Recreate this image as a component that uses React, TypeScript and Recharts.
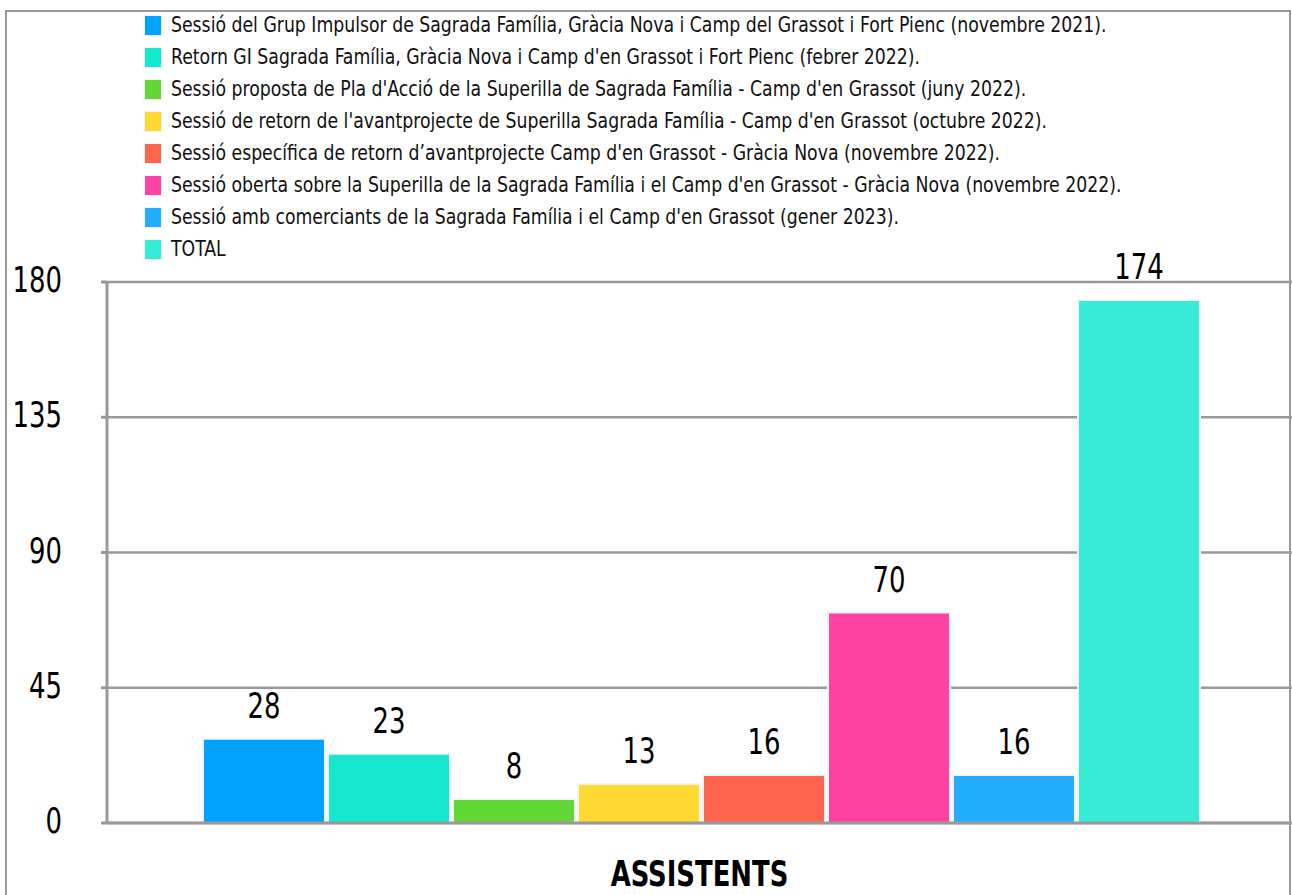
import { BarChart, Bar, XAxis, YAxis, CartesianGrid, Legend, LabelList } from "recharts"

const SESSIONS = [
  "Sessió del Grup Impulsor de Sagrada Família, Gràcia Nova i Camp del Grassot i Fort Pienc (novembre 2021).",
  "Retorn GI Sagrada Família, Gràcia Nova i Camp d'en Grassot i Fort Pienc (febrer 2022).",
  "Sessió proposta de Pla d'Acció de la Superilla de Sagrada Família - Camp d'en Grassot (juny 2022).",
  "Sessió de retorn de l'avantprojecte de Superilla Sagrada Família - Camp d'en Grassot (octubre 2022).",
  "Sessió específica de retorn d’avantprojecte Camp d'en Grassot - Gràcia Nova (novembre 2022).",
  "Sessió oberta sobre la Superilla de la Sagrada Família i el Camp d'en Grassot - Gràcia Nova (novembre 2022).",
  "Sessió amb comerciants de la Sagrada Família i el Camp d'en Grassot (gener 2023).",
  "TOTAL",
]
const ATTENDEES = [28, 23, 8, 13, 16, 70, 16, 174]
const COLORS = ["#00a2ff", "#16e7cf", "#61d836", "#ffd932", "#ff644e", "#ff42a1", "#22adff", "#36ecd6"]
const CATEGORY = "ASSISTENTS"
const Y_TICKS = [0, 45, 90, 135, 180]

const FONT = "'Liberation Sans Narrow', 'DejaVu Sans Condensed', 'DejaVu Sans', sans-serif"
// no condensed face installed, so squeeze text horizontally
const SQUEEZE = 0.8

const row: Record<string, any> = { name: CATEGORY }
ATTENDEES.forEach((v, i) => {
  row["s" + i] = v
})
const data = [row]

function NarrowText({ x, y, size, bold, anchor = "middle", dy = 0, children }: any) {
  return (
    <text
      transform={`translate(${x},${y}) scale(${SQUEEZE},1)`}
      dy={dy}
      textAnchor={anchor}
      fontFamily={FONT}
      fontSize={size}
      fontWeight={bold ? "bold" : "normal"}
      fill="#000"
    >
      {children}
    </text>
  )
}

function LegendBox() {
  return (
    <div style={{ fontFamily: FONT, fontSize: 21, color: "#111" }}>
      {SESSIONS.map((label, i) => (
        <div key={i} style={{ display: "flex", alignItems: "center", height: 32 }}>
          <span
            style={{
              width: 16,
              height: 19,
              background: COLORS[i],
              outline: "1px solid #f2f2f2",
              marginRight: 10,
              flex: "none",
            }}
          />
          <span
            style={{
              whiteSpace: "nowrap",
              display: "inline-block",
              transform: "scaleX(0.915)",
              transformOrigin: "left center",
            }}
          >
            {label}
          </span>
        </div>
      ))}
    </div>
  )
}

function CategoryTick({ x, y, payload }: any) {
  return (
    <NarrowText x={x} y={y + 63} size={36} bold>
      {payload.value}
    </NarrowText>
  )
}

function ValueTick({ x, y, payload }: any) {
  return (
    <NarrowText x={x} y={y} size={36} anchor="end" dy={10}>
      {payload.value}
    </NarrowText>
  )
}

function BarValue({ x, y, width, value }: any) {
  return (
    <NarrowText x={x + width / 2} y={y - 21} size={36}>
      {value}
    </NarrowText>
  )
}

export default function App() {
  return (
    <div style={{ position: "absolute", left: 0, top: 0, width: 1292, height: 895, background: "#fff", overflow: "hidden" }}>
      <BarChart
        width={1292}
        height={895}
        data={data}
        margin={{ top: 282, right: 0, bottom: 0, left: 0 }}
        barCategoryGap="8.1%"
        barGap={3}
      >
        <CartesianGrid horizontal vertical={false} stroke="#999" strokeWidth={2.5} />
        <XAxis
          dataKey="name"
          height={72}
          axisLine={{ stroke: "#999", strokeWidth: 3 }}
          tickLine={false}
          tickSize={0}
          tickMargin={0}
          tick={<CategoryTick />}
        />
        <YAxis
          width={107}
          domain={[0, 180]}
          ticks={Y_TICKS}
          interval={0}
          axisLine={{ stroke: "#999", strokeWidth: 3 }}
          tickLine={{ stroke: "#999", strokeWidth: 3 }}
          tickSize={6}
          tickMargin={39}
          tick={<ValueTick />}
        />
        <Legend
          verticalAlign="middle"
          align="center"
          layout="vertical"
          content={<LegendBox />}
          wrapperStyle={{ position: "absolute", left: 145, top: 9, width: "auto" }}
        />
        {ATTENDEES.map((_, i) => (
          <Bar
            key={i}
            dataKey={"s" + i}
            name={SESSIONS[i]}
            fill={COLORS[i]}
            stroke="#f4f4f4"
            strokeWidth={2}
            isAnimationActive={false}
          >
            <LabelList dataKey={"s" + i} content={<BarValue />} />
          </Bar>
        ))}
      </BarChart>
      <div
        style={{
          position: "absolute",
          left: 5,
          top: 10,
          width: 1286,
          height: 900,
          border: "2px solid #999",
          boxSizing: "border-box",
          pointerEvents: "none",
        }}
      />
    </div>
  )
}
